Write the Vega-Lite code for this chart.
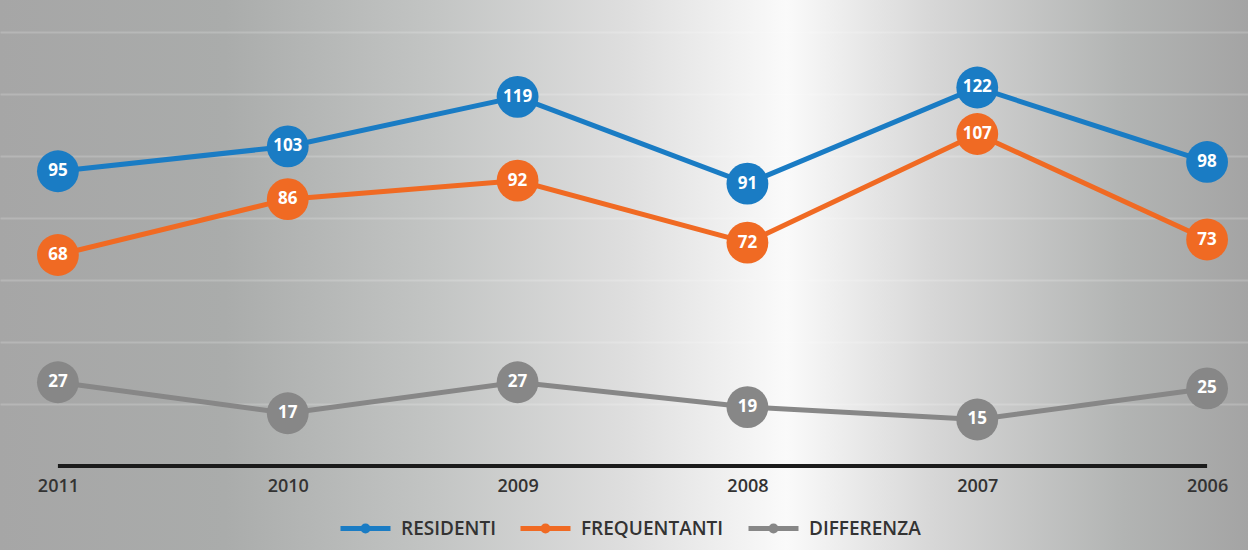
{
  "$schema": "https://vega.github.io/schema/vega-lite/v6.json",
  "width": 1248,
  "height": 550,
  "autosize": "none",
  "padding": 0,
  "background": "#a8a8a8",
  "config": {
    "font": "Open Sans",
    "view": {
      "stroke": null,
      "fill": {
        "gradient": "linear",
        "x1": 0, "y1": 0, "x2": 1, "y2": 0,
        "stops": [
          {"offset": 0, "color": "#a6a6a6"},
          {"offset": 0.18, "color": "#aaacab"},
          {"offset": 0.35, "color": "#c3c5c4"},
          {"offset": 0.5, "color": "#dedede"},
          {"offset": 0.63, "color": "#fafafa"},
          {"offset": 0.75, "color": "#d6d6d6"},
          {"offset": 0.9, "color": "#b2b4b3"},
          {"offset": 1, "color": "#a4a4a4"}
        ]
      }
    }
  },
  "data": {
    "values": [
      {"year": 2011, "series": "RESIDENTI", "value": 95},
      {"year": 2010, "series": "RESIDENTI", "value": 103},
      {"year": 2009, "series": "RESIDENTI", "value": 119},
      {"year": 2008, "series": "RESIDENTI", "value": 91},
      {"year": 2007, "series": "RESIDENTI", "value": 122},
      {"year": 2006, "series": "RESIDENTI", "value": 98},
      {"year": 2011, "series": "FREQUENTANTI", "value": 68},
      {"year": 2010, "series": "FREQUENTANTI", "value": 86},
      {"year": 2009, "series": "FREQUENTANTI", "value": 92},
      {"year": 2008, "series": "FREQUENTANTI", "value": 72},
      {"year": 2007, "series": "FREQUENTANTI", "value": 107},
      {"year": 2006, "series": "FREQUENTANTI", "value": 73},
      {"year": 2011, "series": "DIFFERENZA", "value": 27},
      {"year": 2010, "series": "DIFFERENZA", "value": 17},
      {"year": 2009, "series": "DIFFERENZA", "value": 27},
      {"year": 2008, "series": "DIFFERENZA", "value": 19},
      {"year": 2007, "series": "DIFFERENZA", "value": 15},
      {"year": 2006, "series": "DIFFERENZA", "value": 25}
    ]
  },
  "encoding": {
    "x": {
      "field": "year",
      "type": "quantitative",
      "scale": {"domain": [2005.822, 2011.252], "reverse": true, "nice": false, "zero": false},
      "axis": {
        "values": [2011, 2010, 2009, 2008, 2007, 2006],
        "format": "d",
        "domain": false,
        "ticks": false,
        "grid": false,
        "offset": -84,
        "labelPadding": 11,
        "labelFontSize": 18,
        "labelFontWeight": 600,
        "labelColor": "#333333",
        "labelFlush": false,
        "title": null
      }
    },
    "y": {
      "field": "value",
      "type": "quantitative",
      "scale": {"domain": [-27.07, 150.2], "nice": false, "zero": false},
      "axis": {
        "values": [20, 40, 60, 80, 100, 120, 140],
        "grid": true,
        "gridColor": "#ffffff",
        "gridOpacity": 0.18,
        "gridWidth": 2,
        "labels": false,
        "ticks": false,
        "domain": false,
        "title": null
      }
    }
  },
  "layer": [
    {
      "data": {"values": [{"start": 2011, "end": 2006, "base": 0}]},
      "mark": {"type": "rule", "strokeWidth": 4, "color": "#1b1b1b"},
      "encoding": {
        "x": {"field": "start", "type": "quantitative"},
        "x2": {"field": "end"},
        "y": {"field": "base", "type": "quantitative"}
      }
    },
    {
      "mark": {"type": "line", "strokeWidth": 5},
      "encoding": {
        "color": {
          "field": "series",
          "type": "nominal",
          "scale": {
            "domain": ["RESIDENTI", "FREQUENTANTI", "DIFFERENZA"],
            "range": ["#1a7cc4", "#f06a23", "#878787"]
          },
          "legend": {
            "orient": "none",
            "legendX": 336,
            "legendY": 499,
            "direction": "horizontal",
            "title": null,
            "symbolType": "M-1,0H1M0.1,0A0.1,0.1 0 1,1 -0.1,0A0.1,0.1 0 1,1 0.1,0",
            "symbolSize": 2500,
            "symbolStrokeWidth": 5,
            "labelFontSize": 19,
            "labelFontWeight": 600,
            "labelColor": "#333333",
            "labelOffset": 8,
            "columnPadding": 14,
            "padding": 2,
            "encode": {
              "symbols": {
                "update": {
                  "fill": {"scale": "color", "field": "value"},
                  "stroke": {"scale": "color", "field": "value"},
                  "opacity": {"value": 1}
                }
              }
            }
          }
        }
      }
    },
    {
      "mark": {"type": "point", "filled": true, "opacity": 1, "size": 1750},
      "encoding": {
        "color": {"field": "series", "type": "nominal"}
      }
    },
    {
      "mark": {"type": "text", "color": "#ffffff", "fontWeight": "bold", "fontSize": 17, "align": "center", "baseline": "middle"},
      "encoding": {
        "text": {"field": "value", "type": "quantitative"}
      }
    }
  ]
}
